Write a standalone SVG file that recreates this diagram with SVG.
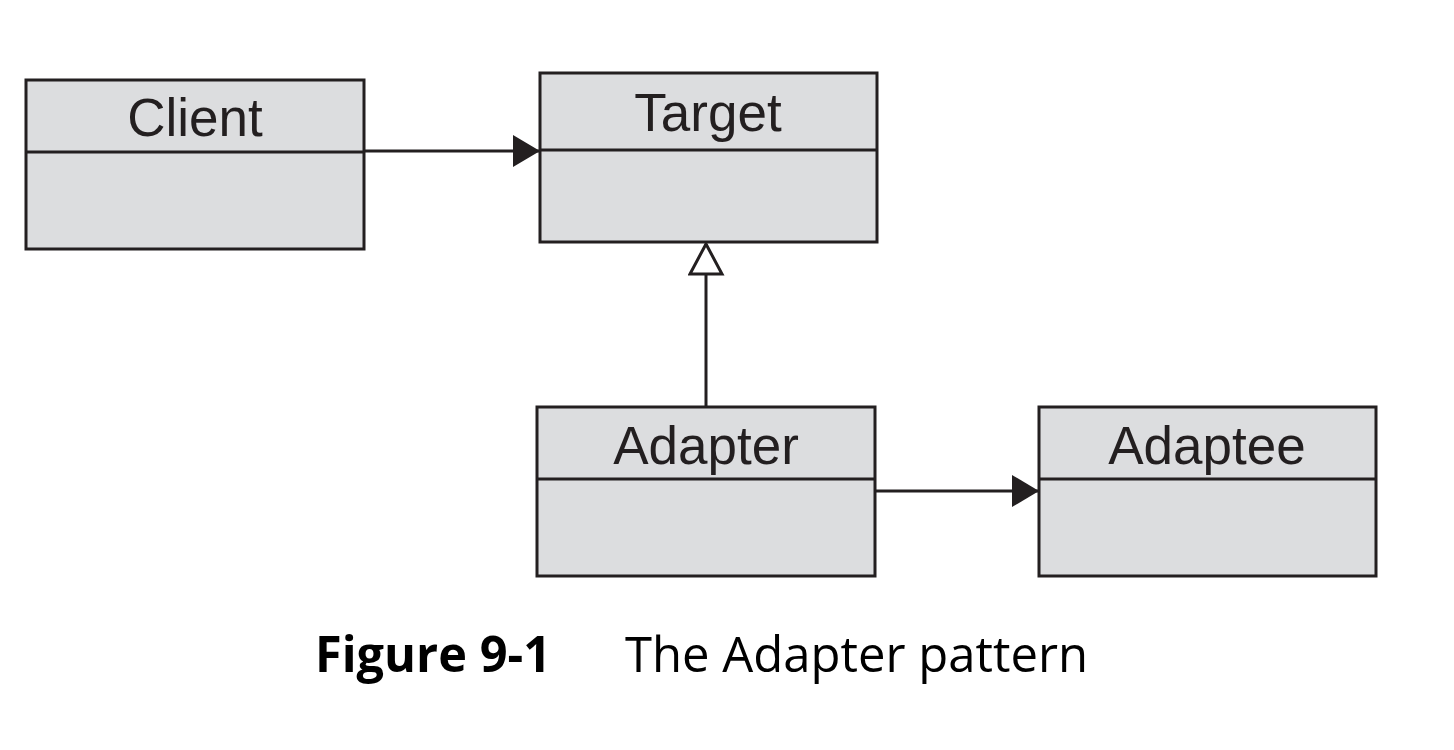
<svg xmlns="http://www.w3.org/2000/svg" width="1454" height="750" viewBox="0 0 1454 750">
<style>
.box{fill:#dcdddf;stroke:#231f20;stroke-width:3}
.div{stroke:#231f20;stroke-width:3}
.lbl{font-family:"Liberation Sans",Arial,sans-serif;font-size:53px;fill:#231f20;text-anchor:middle}
.con{stroke:#231f20;stroke-width:3;fill:none}
.cap{font-family:"Open Sans","Noto Sans",sans-serif;font-size:50px;fill:#000}
</style>
<defs>
<marker id="filled" markerUnits="userSpaceOnUse" markerWidth="30" markerHeight="34" refX="27" refY="16" orient="auto">
<path d="M0,0 L27,16 L0,32 Z" fill="#231f20"/>
</marker>
<marker id="hollow" markerUnits="userSpaceOnUse" markerWidth="40" markerHeight="40" refX="32" refY="18" orient="auto">
<path d="M2,2 L32,18 L2,34 Z" fill="#fff" stroke="#231f20" stroke-width="3"/>
</marker>
</defs>
<rect width="1454" height="750" fill="#fff"/>
<g id="connectors">
<line class="con" x1="364" y1="151" x2="540" y2="151" marker-end="url(#filled)"/>
<line class="con" x1="875" y1="491" x2="1039" y2="491" marker-end="url(#filled)"/>
<line class="con" x1="706" y1="407" x2="706" y2="244" marker-end="url(#hollow)"/>
</g>
<g id="client">
<rect class="box" x="26" y="80" width="338" height="169"/>
<line class="div" x1="26" y1="152" x2="364" y2="152"/>
<text class="lbl" x="195" y="136">Client</text>
</g>
<g id="target">
<rect class="box" x="540" y="73" width="337" height="169"/>
<line class="div" x1="540" y1="150" x2="877" y2="150"/>
<text class="lbl" x="708" y="131">Target</text>
</g>
<g id="adapter">
<rect class="box" x="537" y="407" width="338" height="169"/>
<line class="div" x1="537" y1="479" x2="875" y2="479"/>
<text class="lbl" x="706" y="464">Adapter</text>
</g>
<g id="adaptee">
<rect class="box" x="1039" y="407" width="337" height="169"/>
<line class="div" x1="1039" y1="479" x2="1376" y2="479"/>
<text class="lbl" x="1207" y="464">Adaptee</text>
</g>
<g id="caption">
<text class="cap" x="315" y="672" font-weight="bold" textLength="236" lengthAdjust="spacingAndGlyphs">Figure 9-1</text>
<text class="cap" x="625" y="672" textLength="463" lengthAdjust="spacingAndGlyphs">The Adapter pattern</text>
</g>
</svg>
